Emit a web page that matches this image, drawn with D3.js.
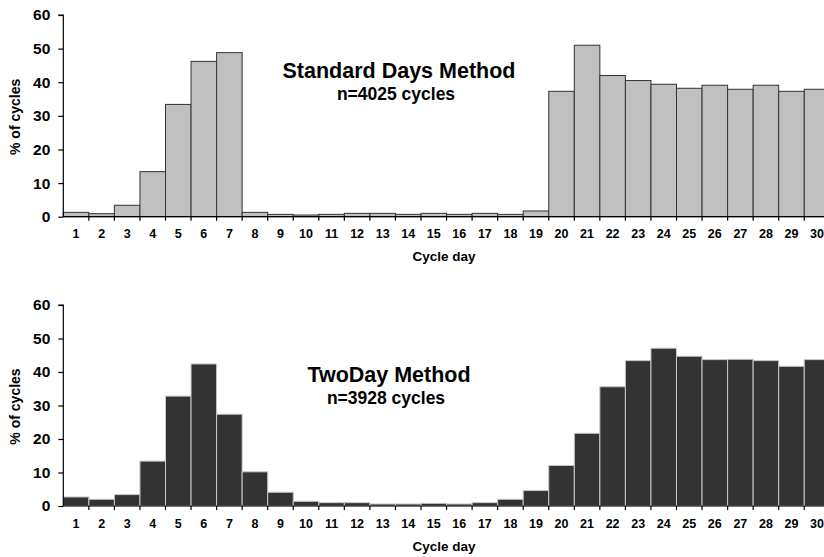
<!DOCTYPE html>
<html>
<head>
<meta charset="utf-8">
<script src="https://cdn.jsdelivr.net/npm/d3@7"></script>
<style>
  html, body { margin: 0; padding: 0; background: #ffffff; }
  svg text { font-family: "Liberation Sans", Arial, Helvetica, sans-serif; font-weight: bold; fill: #000; }
</style>
</head>
<body>
<svg id="chart" width="824" height="557"></svg>
<script>
const days = d3.range(1, 31);
const yTicks = [0, 10, 20, 30, 40, 50, 60];

const sdmValues = [1.3, 0.9, 3.4, 13.4, 33.4, 46.2, 48.8, 1.3, 0.7, 0.5,
                   0.7, 1.0, 1.0, 0.7, 1.0, 0.7, 1.0, 0.7, 1.7, 37.3,
                   51.0, 42.0, 40.5, 39.4, 38.2, 39.1, 37.9, 39.1, 37.3, 37.9];
const tdmValues = [2.7, 2.0, 3.4, 13.4, 32.8, 42.4, 27.4, 10.2, 4.1, 1.4,
                   1.0, 1.0, 0.6, 0.6, 0.8, 0.6, 1.0, 2.0, 4.6, 12.1,
                   21.7, 35.6, 43.4, 47.1, 44.7, 43.7, 43.8, 43.4, 41.7, 43.7];

const panels = [
  { values: sdmValues, title: "Standard Days Method", subtitle: "n=4025 cycles",
    top: 15, bottom: 216.7, fill: "#c0c0c0", stroke: "#333333",
    titleX: 399, titleY: 77.5, subY: 100 },
  { values: tdmValues, title: "TwoDay Method", subtitle: "n=3928 cycles",
    top: 305, bottom: 506, fill: "#333333", stroke: "#c8c8c8",
    titleX: 389, titleY: 381.5, subY: 404 }
];

const svg = d3.select("#chart");
const x = d3.scaleBand().domain(days).range([63.3, 829.8]).paddingInner(0).paddingOuter(0);

panels.forEach(p => {
  const y = d3.scaleLinear().domain([0, 60]).range([p.bottom, p.top]);
  const g = svg.append("g");

  // bars
  g.selectAll("rect.bar").data(days).enter().append("rect")
    .attr("class", "bar")
    .attr("x", d => x(d))
    .attr("width", x.bandwidth())
    .attr("y", (d, i) => y(p.values[i]))
    .attr("height", (d, i) => y(0) - y(p.values[i]))
    .attr("fill", p.fill)
    .attr("stroke", p.stroke)
    .attr("stroke-width", 1);

  // y axis
  const yAxis = d3.axisLeft(y).tickValues(yTicks).tickSize(5).tickPadding(8);
  const ya = g.append("g").attr("transform", `translate(${x.range()[0]},0)`).call(yAxis);
  ya.select(".domain").attr("stroke", "#000").attr("stroke-width", 1.2).attr("d", `M-5,${p.top}H0V${p.bottom}`);
  ya.selectAll(".tick line").attr("stroke", "#000").attr("stroke-width", 1.2);
  ya.selectAll(".tick text").style("font-size", "15.5px").attr("fill", "#000");

  // x axis: ticks at category boundaries, labels at centres
  const xa = g.append("g").attr("transform", `translate(0,${p.bottom})`);
  xa.append("line").attr("x1", x.range()[0]).attr("x2", x.range()[1])
    .attr("y1", 0).attr("y2", 0).attr("stroke", "#000").attr("stroke-width", 1.2);
  xa.selectAll("line.tk").data(days).enter().append("line")
    .attr("class", "tk")
    .attr("x1", d => x(d) + x.bandwidth()).attr("x2", d => x(d) + x.bandwidth())
    .attr("y1", 0).attr("y2", 4).attr("stroke", "#000").attr("stroke-width", 1.2);
  xa.selectAll("text").data(days).enter().append("text")
    .attr("x", d => x(d) + x.bandwidth() / 2)
    .attr("y", 21.5)
    .attr("text-anchor", "middle")
    .style("font-size", "12.5px")
    .text(d => d);

  // axis titles
  g.append("text").attr("x", 444).attr("y", p.bottom + 44.5)
    .attr("text-anchor", "middle").style("font-size", "13.5px").text("Cycle day");
  const cy = (p.top + p.bottom) / 2 + 1;
  g.append("text").attr("transform", `translate(20,${cy}) rotate(-90)`)
    .attr("text-anchor", "middle").style("font-size", "14px").text("% of cycles");

  // titles
  g.append("text").attr("x", p.titleX).attr("y", p.titleY)
    .attr("text-anchor", "middle").style("font-size", "21.5px").text(p.title);
  g.append("text").attr("x", p.titleX - 3).attr("y", p.subY)
    .attr("text-anchor", "middle").style("font-size", "17.5px").text(p.subtitle);
});
</script>
</body>
</html>
